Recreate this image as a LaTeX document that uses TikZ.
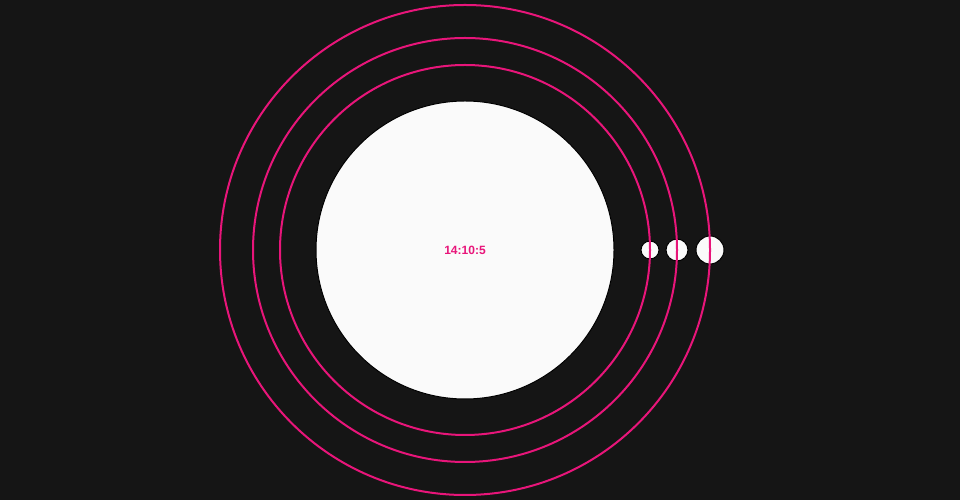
\documentclass[tikz,border=0pt]{standalone}
\usepackage{fontspec}
\setmainfont{Liberation Sans}
\definecolor{bg}{HTML}{151515}
\definecolor{ring}{HTML}{E8157A}
\definecolor{disc}{HTML}{FAFAFA}
\begin{document}
\begin{tikzpicture}[x=1pt,y=1pt,
  ringline/.style={draw=ring,line width=2pt},
  moon/.style={circle,fill=disc,draw=black,line width=1pt,inner sep=0pt}]
\fill[bg] (0,0) rectangle (960,500);
\useasboundingbox (0,0) rectangle (960,500);
\coordinate (c) at (465,250);
\node[circle,fill=disc,draw=black,line width=1pt,minimum size=298pt,inner sep=0pt] (sun) at (c) {};
\node[moon,minimum size=18pt] (m1) at (650,250) {};
\node[moon,minimum size=22pt] (m2) at (677,250) {};
\node[moon,minimum size=28pt] (m3) at (710,250) {};
\draw[ringline] (c) circle[radius=185];
\draw[ringline] (c) circle[radius=212];
\draw[ringline] (c) circle[radius=245];
\node[text=ring,font=\bfseries\fontsize{12}{14}\selectfont] (t) at (c) {14:10:5};
\end{tikzpicture}
\end{document}
